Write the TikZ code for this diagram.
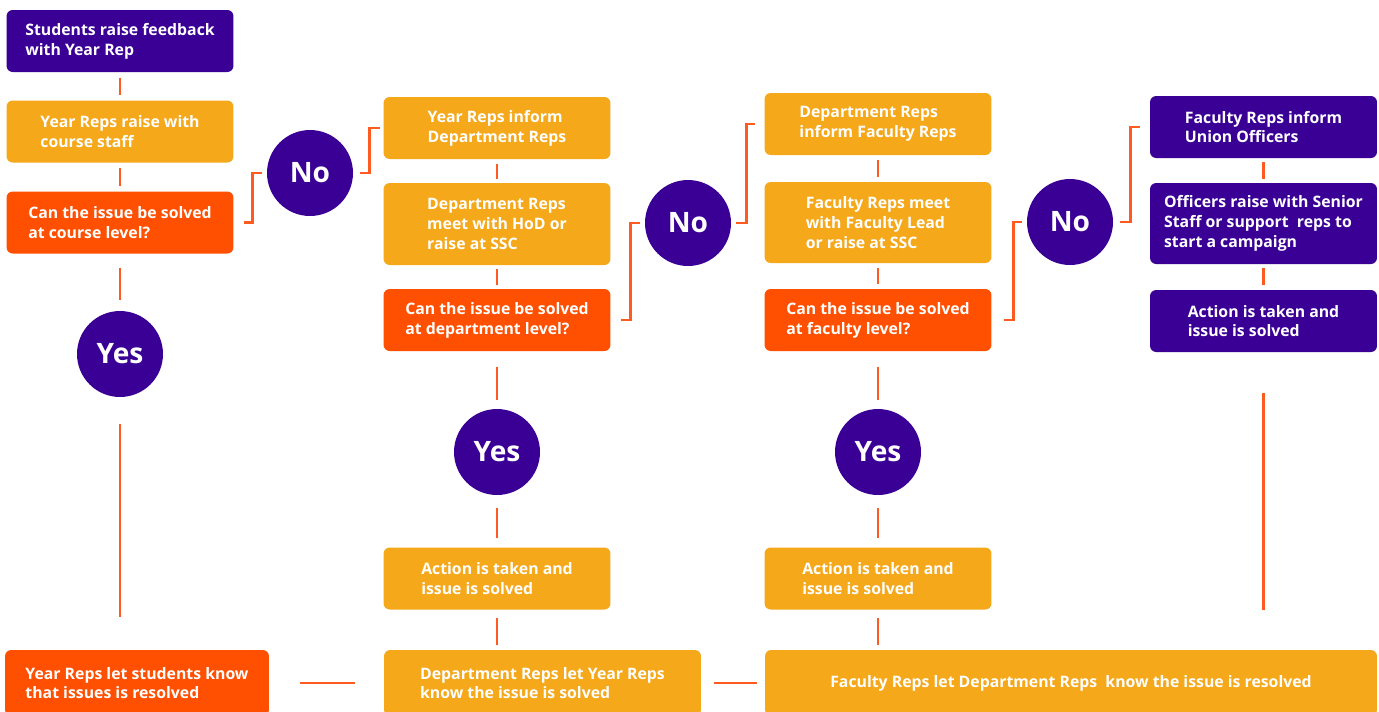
\documentclass[tikz,border=0pt]{standalone}
\usepackage{fontspec}
\setmainfont{Open Sans}
\definecolor{unipurple}{HTML}{3A0096}
\definecolor{uniyellow}{HTML}{F5A81A}
\definecolor{uniorange}{HTML}{FF4F00}
\definecolor{linkorange}{HTML}{FF5A1F}
\tikzset{
  box/.style={rectangle, rounded corners=3.5pt, text=white, align=left, inner sep=0pt,
    font=\fontsize{9}{11.3}\selectfont\bfseries, minimum width=4.54cm, minimum height=1.24cm},
  purplebox/.style={box, fill=unipurple},
  yellowbox/.style={box, fill=uniyellow},
  orangebox/.style={box, fill=uniorange},
  answer/.style={circle, fill=unipurple, text=white, minimum size=1.72cm, inner sep=0pt,
    font=\fontsize{16}{18}\selectfont\bfseries},
  link/.style={draw=linkorange, line width=1.6pt},
  gap/.style 2 args={shorten <=#1, shorten >=#2},
}
\begin{document}
\begin{tikzpicture}[x=0.02cm, y=-0.02cm]
  \useasboundingbox (0,0) rectangle (1379,711);

  % course level
  \node[purplebox] (S1) at (120,41) {Students raise feedback\\with Year Rep};
  \node[yellowbox] (Y1) at (120,131.5) {Year Reps raise with\\course staff};
  \node[orangebox] (Q1) at (120,222.5) {Can the issue be solved\\at course level?};
  \node[answer] (No1) at (310,173) {No};
  \node[answer] (Yes1) at (120,354) {Yes};

  % department level
  \node[yellowbox] (D1) at (497,128) {Year Reps inform\\Department Reps};
  \node[yellowbox, minimum height=1.64cm] (D2) at (497,224) {Department Reps\\meet with HoD or\\raise at SSC};
  \node[orangebox] (Q2) at (497,320) {Can the issue be solved\\at department level?};
  \node[answer] (No2) at (688,223) {No};
  \node[answer] (Yes2) at (497,452) {Yes};
  \node[yellowbox] (A2) at (497,578.5) {Action is taken and\\issue is solved};

  % faculty level
  \node[yellowbox] (F1) at (878,124) {Department Reps\\inform Faculty Reps};
  \node[yellowbox, minimum height=1.62cm] (F2) at (878,222.5) {Faculty Reps meet\\with Faculty Lead\\or raise at SSC};
  \node[orangebox] (Q3) at (878,320) {Can the issue be solved\\at faculty level?};
  \node[answer] (No3) at (1070,222) {No};
  \node[answer] (Yes3) at (878,452) {Yes};
  \node[yellowbox] (A3) at (878,578.5) {Action is taken and\\issue is solved};

  % union
  \node[purplebox] (U1) at (1263.5,127) {Faculty Reps inform\\Union Officers};
  \node[purplebox, minimum height=1.62cm] (U2) at (1263.5,223.5) {Officers raise with Senior\\Staff or support\ \ reps to\\start a campaign};
  \node[purplebox] (U3) at (1263.5,321) {Action is taken and\\issue is solved};

  % feedback back down
  \node[orangebox, minimum width=5.28cm, minimum height=1.32cm] (B1) at (137,683) {Year Reps let students know\\that issues is resolved};
  \node[yellowbox, minimum width=6.34cm, minimum height=1.32cm] (B2) at (542.5,683) {Department Reps let Year Reps\\know the issue is solved};
  \node[yellowbox, minimum width=12.24cm, minimum height=1.32cm] (B3) at (1071,683) {Faculty Reps let Department Reps\ \ know the issue is resolved};

  \draw[link, gap={0.12cm}{0.1cm}] (S1) -- (Y1);
  \draw[link, gap={0.1cm}{0.1cm}] (Y1) -- (Q1);
  \draw[link, gap={0.28cm}{0.22cm}] (Q1) -- (Yes1);
  \draw[link, gap={0.54cm}{0.66cm}] (Yes1) -- (Yes1 |- B1.north);
  \draw[link, gap={0.2cm}{0.1cm}] (Q1.east) -- ++(19,0) |- (No1.west);
  \draw[link, gap={0.14cm}{0.06cm}] (No1.east) -- ++(16,0) |- (D1.west);

  \draw[link, gap={0.1cm}{0.08cm}] (D1) -- (D2);
  \draw[link, gap={0.08cm}{0.08cm}] (D2) -- (Q2);
  \draw[link, gap={0.32cm}{0.18cm}] (Q2) -- (Yes2);
  \draw[link, gap={0.26cm}{0.18cm}] (Yes2) -- (A2);
  \draw[link, gap={0.16cm}{0.1cm}] (A2) -- (A2 |- B2.north);
  \draw[link, gap={0.2cm}{0.1cm}] (Q2.east) -- ++(20,0) |- (No2.west);
  \draw[link, gap={0.1cm}{0.18cm}] (No2.east) -- ++(15,0) |- (F1.west);

  \draw[link, gap={0.1cm}{0.1cm}] (F1) -- (F2);
  \draw[link, gap={0.1cm}{0.1cm}] (F2) -- (Q3);
  \draw[link, gap={0.32cm}{0.18cm}] (Q3) -- (Yes3);
  \draw[link, gap={0.26cm}{0.18cm}] (Yes3) -- (A3);
  \draw[link, gap={0.16cm}{0.1cm}] (A3) -- (A3 |- B3.north);
  \draw[link, gap={0.24cm}{0.1cm}] (Q3.east) -- ++(22,0) |- (No3.west);
  \draw[link, gap={0.14cm}{0.2cm}] (No3.east) -- ++(17,0) |- (U1.west);

  \draw[link, gap={0.08cm}{0.08cm}] (U1) -- (U2);
  \draw[link, gap={0.08cm}{0.1cm}] (U2) -- (U3);
  \draw[link, gap={0.82cm}{0.8cm}] (U3) -- (U3 |- B3.north);

  \draw[link, gap={0.62cm}{0.58cm}] (B1) -- (B2);
  \draw[link, gap={0.26cm}{0.16cm}] (B2) -- (B3);
\end{tikzpicture}
\end{document}
